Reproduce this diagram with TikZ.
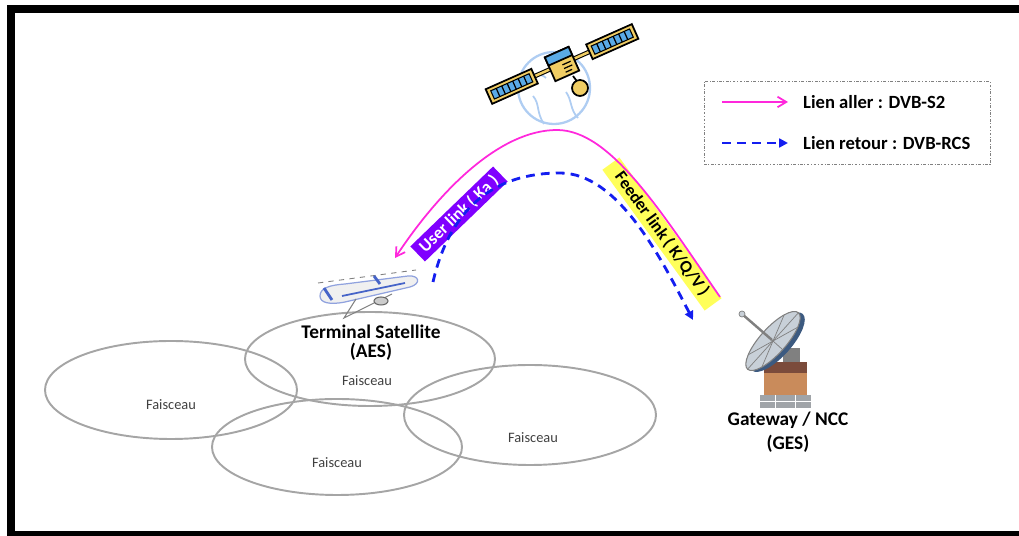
\documentclass[tikz,border=0pt]{standalone}
\usepackage{fontspec}
\setmainfont{Carlito}
\usetikzlibrary{arrows.meta}
\definecolor{lienaller}{RGB}{255,40,220}
\definecolor{lienretour}{RGB}{20,30,240}
\definecolor{userlink}{RGB}{128,0,255}
\definecolor{feederlink}{RGB}{255,255,90}
\definecolor{faisceaugris}{RGB}{165,165,165}
\definecolor{panneau}{RGB}{240,205,100}
\definecolor{cellule}{RGB}{90,170,230}
\definecolor{globe}{RGB}{175,205,242}
\definecolor{avion}{RGB}{70,100,200}
\definecolor{disque}{RGB}{200,208,216}
\definecolor{dosdisque}{RGB}{60,90,128}
\definecolor{brique}{RGB}{201,139,91}
\definecolor{brun}{RGB}{123,75,59}
\definecolor{socle}{RGB}{160,164,168}

\begin{document}
\begin{tikzpicture}[x=0.02cm,y=-0.02cm,
  faisceau/.style={draw=faisceaugris,line width=1.1pt},
  petit/.style={font=\fontsize{8.2}{9}\selectfont,text=black!75},
  titre/.style={font=\fontsize{11}{11}\selectfont\bfseries,align=center},
  legtext/.style={font=\fontsize{10.6}{11}\selectfont\bfseries,anchor=west},
  aller/.style={draw=lienaller,line width=1pt,-{Straight Barb[length=5pt,width=6pt]}},
  retour/.style={draw=lienretour,line width=1.6pt,dash pattern=on 5pt off 3.5pt,-{Triangle[length=5pt,width=5pt]}},
  etiquette/.style={font=\fontsize{9.8}{10}\selectfont\bfseries,inner sep=1pt,minimum height=0.42cm}]
\useasboundingbox (0,0) rectangle (1019,536);
\clip (0,0) rectangle (1019,536);
\draw[line width=0.16cm] (11,9) rectangle (1025,535);

% faisceaux
\draw[faisceau] (171,390) ellipse [x radius=126, y radius=49];
\draw[faisceau] (370,359) ellipse [x radius=125, y radius=47];
\draw[faisceau] (337,447) ellipse [x radius=125, y radius=48];
\draw[faisceau] (530,415) ellipse [x radius=126, y radius=50];
\node[petit] (fx1) at (171,405) {Faisceau};
\node[petit] (fx2) at (367,381) {Faisceau};
\node[petit] (fx3) at (337,463) {Faisceau};
\node[petit] (fx4) at (533,438) {Faisceau};

% satellite
\draw[globe,line width=1.3pt] (554,88) circle [radius=36];
\draw[globe,line width=1pt] (533,96) .. controls (540,104) and (536,112) .. (544,124);
\draw[globe,line width=1pt] (566,92) .. controls (572,100) and (570,110) .. (578,118);
\draw[globe,line width=1pt] (524,72) .. controls (532,76) and (540,72) .. (546,78);
\begin{scope}[shift={(562,64)},rotate=24]
\draw[line width=2.6pt] (-32,0) -- (32,0);
\draw[panneau,line width=1.4pt] (-32,0) -- (32,0);
\filldraw[fill=panneau,line width=1pt] (-80,-8) rectangle (-30,8);
\filldraw[fill=cellule,line width=0.6pt] (-76,-4.5) rectangle (-34,4.5);
\foreach \x in {-70,-64,...,-40} \draw[line width=0.7pt] (\x,-4.5) -- (\x,4.5);
\filldraw[fill=panneau,line width=1pt] (30,-8) rectangle (80,8);
\filldraw[fill=cellule,line width=0.6pt] (34,-4.5) rectangle (76,4.5);
\foreach \x in {40,46,...,70} \draw[line width=0.7pt] (\x,-4.5) -- (\x,4.5);
\filldraw[fill=panneau,line width=1pt] (-13,-13) rectangle (13,13);
\filldraw[fill=cellule,line width=1pt] (-13,-13) rectangle (13,-4);
\draw[line width=0.7pt] (0,1) -- (9,1) (0,5) -- (9,5) (0,9) -- (7,9);
\end{scope}
\draw[line width=1pt] (573,76) -- (579,84);
\filldraw[fill=panneau,line width=1pt] (580,88) circle [radius=8];

% terminal (avion)
\draw[gray,dashed,line width=0.5pt] (318,283) -- (416,270);
\filldraw[fill=black!6,draw=avion!60,line width=0.7pt] (320,296) .. controls (320,288) and (330,285) .. (345,284)
  -- (408,276) .. controls (420,275) and (421,284) .. (410,287) -- (345,302) .. controls (330,305) and (320,303) .. (320,296) -- cycle;
\draw[gray,line width=0.6pt] (356,299) -- (344,318) -- (392,294);
\draw[avion,line width=1.6pt] (324,288) -- (332,300);
\draw[avion,line width=1.6pt] (374,276) -- (380,284);
\draw[avion,line width=1pt] (342,296) -- (405,283);
\filldraw[fill=gray!40,draw=black!60,line width=0.6pt] (381,301) ellipse [x radius=7, y radius=4];
\node[titre] (aes) at (371,343) {Terminal Satellite\\(AES)};

% gateway
\fill[socle] (760,395) rectangle (811,408);
\draw[white,line width=0.5pt] (760,401) -- (811,401) (775,395) -- (775,408) (795,395) -- (795,408);
\fill[brique] (764,373) rectangle (807,395);
\fill[brun] (764,362) rectangle (807,373);
\fill[gray] (783,348) rectangle (800,362);
\begin{scope}[shift={(773,341)},rotate=48]
\fill[dosdisque] (2,4) ellipse [x radius=38, y radius=14];
\filldraw[fill=disque,draw=gray,line width=0.6pt] (0,0) ellipse [x radius=38, y radius=13];
\foreach \a in {0,45,...,315} \draw[gray,line width=0.4pt] (0,0) -- (\a:38 and 13);
\end{scope}
\draw[gray,line width=1.4pt] (772,340) -- (742,314);
\filldraw[fill=disque,draw=gray] (742,314) circle [radius=3];
\node[titre] (ges) at (788,432) {Gateway / NCC\\[3pt](GES)};

% liens
\node[etiquette,fill=userlink,text=white,rotate=44,minimum width=2.3cm] (ul) at (459,214) {User link ( Ka )};
\node[etiquette,fill=feederlink,rotate=-54,minimum width=3.48cm] (fl) at (662,234) {Feeder link ( K/Q/V )};
\coordinate (gwA) at (720,297);
\coordinate (satA) at (557,130);
\coordinate (utA) at (395,258);
\coordinate (utR) at (433,282);
\coordinate (satR) at (560,173);
\coordinate (gwR) at (693,320);
\draw[aller] (gwA) .. controls (660,210) and (610,130) .. (satA) .. controls (500,130) and (440,190) .. (utA);
\draw[retour] (utR) .. controls (450,208) and (494,173) .. (satR) .. controls (618,173) and (661,258) .. (gwR);

% legende
\node[draw=gray,dash pattern=on 1.5pt off 1pt on 0.4pt off 1pt,minimum width=5.72cm,minimum height=1.66cm] (leg) at (847,123) {};
\coordinate (la1) at (722,102);
\coordinate (la2) at (788,102);
\coordinate (lr1) at (722,143);
\coordinate (lr2) at (788,143);
\draw[aller] (la1) -- (la2);
\draw[retour] (lr1) -- (lr2);
\node[legtext] (txa) at (797,102) {Lien aller : DVB-S2};
\node[legtext] (txr) at (797,143) {Lien retour : DVB-RCS};
\end{tikzpicture}
\end{document}
